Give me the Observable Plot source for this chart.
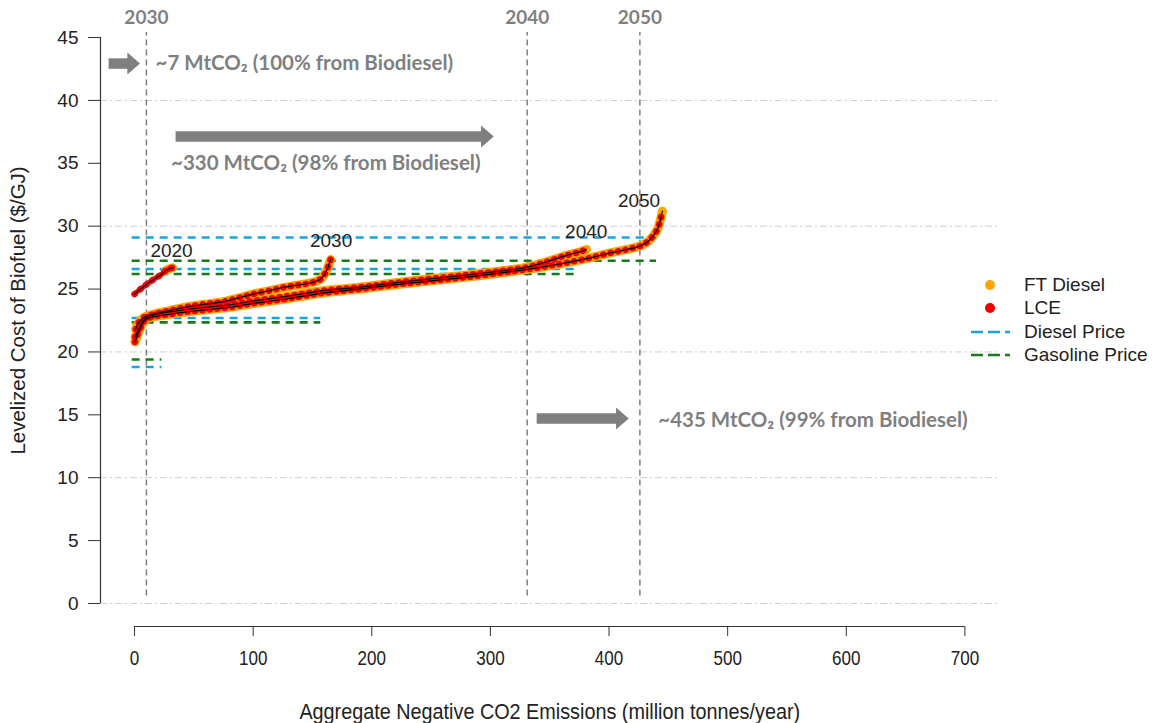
<!DOCTYPE html>
<html>
<head>
<meta charset="utf-8">
<script src="https://cdn.jsdelivr.net/npm/d3@7"></script>
<script src="https://cdn.jsdelivr.net/npm/@observablehq/plot@0.6"></script>
<style>
  html, body { margin: 0; padding: 0; background: #fff; }
  #wrap { position: relative; width: 1163px; height: 723px; overflow: hidden; }
  #legend { position: absolute; left: 966px; top: 273px; font-family: "Liberation Sans", Arial, sans-serif; font-size: 19px; color: #222; }
  #legend .row { display: flex; align-items: center; height: 23.5px; }
  #legend svg { width: 58px; height: 20px; flex: none; }
</style>
</head>
<body>
<div id="wrap"></div>
<script>
// ---------- data ----------
const yTicks = [0, 5, 10, 15, 20, 25, 30, 35, 40, 45];
const xTicks = [0, 100, 200, 300, 400, 500, 600, 700];
const gridValues = [0, 10, 20, 30, 40];
const xTitle = "Aggregate Negative CO2 Emissions (million tonnes/year)";
const yTitle = "Levelized Cost of Biofuel ($/GJ)";

// Vertical milestone lines (cumulative negative emissions reached by 2030/2040/2050)
const milestoneYears = ["2030", "2040", "2050"];
const milestoneX = [10, 331, 426];

// Supply curves: [x = cumulative negative CO2 (Mt/yr), y = levelized cost ($/GJ)]
const curve2020X = [0, 3, 5, 8, 11, 15, 19, 23, 26, 29, 32];
const curve2020Y = [24.6, 24.85, 25.0, 25.2, 25.45, 25.7, 25.95, 26.2, 26.45, 26.6, 26.7];
const ft2020X = [26, 29, 32];
const ft2020Y = [26.45, 26.6, 26.7];

const curve2030X = [1, 2, 4, 6, 8, 10, 14, 20, 30, 45, 60, 75, 90, 100, 115, 125, 135, 145, 152, 157, 160, 162.5, 164, 165.3];
const curve2030Y = [21.8, 22.1, 22.4, 22.6, 22.75, 22.85, 22.95, 23.1, 23.3, 23.6, 23.8, 24.0, 24.35, 24.6, 24.9, 25.12, 25.28, 25.42, 25.58, 25.8, 26.15, 26.6, 27.0, 27.35];

const curve2040X = [0.5, 2, 4, 6, 8, 10, 14, 20, 30, 45, 60, 80, 100, 130, 160, 190, 220, 250, 280, 310, 330, 345, 355, 365, 375, 381];
const curve2040Y = [21.2, 21.5, 21.9, 22.3, 22.55, 22.75, 22.9, 23.05, 23.2, 23.4, 23.55, 23.75, 24.05, 24.45, 24.88, 25.15, 25.5, 25.82, 26.12, 26.45, 26.72, 27.1, 27.4, 27.7, 27.95, 28.15];

const curve2050X = [0.3, 1.5, 3, 5, 7, 9, 12, 16, 22, 30, 45, 60, 80, 100, 130, 160, 190, 220, 250, 280, 310, 330, 350, 370, 385, 400, 415, 427, 433, 437, 441, 443, 445];
const curve2050Y = [20.8, 21.1, 21.5, 21.9, 22.3, 22.55, 22.7, 22.8, 22.9, 23.0, 23.2, 23.35, 23.55, 23.85, 24.25, 24.7, 25.0, 25.35, 25.65, 25.95, 26.3, 26.55, 26.85, 27.2, 27.5, 27.85, 28.15, 28.45, 28.8, 29.2, 29.8, 30.4, 31.2];

const curveLabels = ["2020", "2030", "2040", "2050"];
const curveLabelX = [31.2, 165.7, 380.8, 425.3];
const curveLabelY = [28.07, 28.8, 29.52, 32.04];

// Fuel price reference lines per year
const priceYears = ["2020", "2030", "2040", "2050"];
const dieselPrice = [18.8, 22.7, 26.6, 29.1];
const gasolinePrice = [19.4, 22.35, 26.2, 27.25];
const priceExtent = [23, 157, 373, 440];

// Arrow annotations
const arrowStartX = [-21.9, 34.6, 339];
const arrowTipX = [4.6, 302.8, 416.6];
const arrowY = [42.93, 37.13, 14.71];
const noteText = ["~7 MtCO\u2082 (100% from Biodiesel)", "~330 MtCO\u2082 (98% from Biodiesel)", "~435 MtCO\u2082 (99% from Biodiesel)"];
const noteX = [17.7, 30.8, 441.5];
const noteY = [42.93, 34.98, 14.55];

// ---------- build tables ----------
const zip = (xs, ys, extra) => xs.map((x, i) => ({x, y: ys[i], ...extra}));
const lce = [
  ...zip(curve2020X, curve2020Y, {year: "2020"}),
  ...zip(curve2030X, curve2030Y, {year: "2030"}),
  ...zip(curve2040X, curve2040Y, {year: "2040"}),
  ...zip(curve2050X, curve2050Y, {year: "2050"})
];
const ft = [
  ...zip(ft2020X, ft2020Y, {year: "2020"}),
  ...zip(curve2030X, curve2030Y, {year: "2030"}),
  ...zip(curve2040X, curve2040Y, {year: "2040"}),
  ...zip(curve2050X, curve2050Y, {year: "2050"})
];
const prices = [
  ...priceYears.map((yr, i) => ({year: yr, fuel: "Gasoline Price", price: gasolinePrice[i], xmax: priceExtent[i]})),
  ...priceYears.map((yr, i) => ({year: yr, fuel: "Diesel Price", price: dieselPrice[i], xmax: priceExtent[i]}))
];
const milestones = milestoneYears.map((yr, i) => ({year: yr, x: milestoneX[i]}));
const arrows = arrowY.map((y, i) => ({x1: arrowStartX[i], x2: arrowTipX[i], y}));
const notes = noteText.map((t, i) => ({text: t, x: noteX[i], y: noteY[i]}));
const labels = curveLabels.map((t, i) => ({text: t, x: curveLabelX[i], y: curveLabelY[i]}));

const X_MIN = -28.7, X_MAX = 730, Y_MIN = -1.83, Y_MAX = 45.4;
const COLORS = {ft: "#FFA500", lce: "#F20000", diesel: "#1BA3DB", gasoline: "#1A7A1A", gray: "#7F7F7F"};

const arrowHead = {
  draw(context, size) {
    const r = Math.sqrt(size / Math.PI);
    context.moveTo(0, 0);
    context.lineTo(-1.15 * r, -r);
    context.lineTo(-1.15 * r, r);
    context.closePath();
  }
};

const chart = Plot.plot({
  width: 1163,
  height: 723,
  marginLeft: 100,
  marginRight: 163,
  marginTop: 32,
  marginBottom: 97,
  x: {domain: [X_MIN, X_MAX]},
  y: {domain: [Y_MIN, Y_MAX]},
  style: {fontFamily: "'Liberation Sans', Arial, sans-serif", background: "white", color: "#222"},
  marks: [
    // grid
    Plot.ruleY(gridValues, {x1: X_MIN, x2: X_MAX, stroke: "#cfcfcf", strokeWidth: 1, strokeDasharray: "7,3,2,3"}),
    // axes
    Plot.ruleX([X_MIN], {y1: 0, y2: 45, stroke: "#333", strokeWidth: 1.2}),
    Plot.ruleY([Y_MIN], {x1: 0, x2: 700, stroke: "#333", strokeWidth: 1.2}),
    Plot.axisY(yTicks, {tickSize: 12, tickPadding: 10, fontSize: 19, label: null, stroke: "#333"}),
    Plot.axisX(xTicks, {tickSize: 10, tickPadding: 14, fontSize: 20, label: null, stroke: "#333"}),
    Plot.text([yTitle], {x: X_MIN, y: 23.3, dx: -82, rotate: -90, fontSize: 20.5, fill: "#222"}),
    Plot.text([xTitle], {x: 350, y: Y_MIN, dy: 85, fontSize: 22, fill: "#222"}),
    // milestone lines
    Plot.ruleX(milestones, {x: "x", y1: 0.6, y2: 45.4, stroke: COLORS.gray, strokeWidth: 1.5, strokeDasharray: "6,4"}),
    Plot.text(milestones, {x: "x", y: Y_MAX, dy: -15, text: "year", fill: COLORS.gray, fontWeight: "bold", fontSize: 19, fontFamily: "Lato, 'Open Sans', sans-serif"}),
    // price lines
    Plot.ruleY(prices, {y: "price", x1: -2, x2: "xmax", stroke: d => d.fuel === "Diesel Price" ? COLORS.diesel : COLORS.gasoline, strokeWidth: 2.6, strokeDasharray: "8,6"}),
    // supply curves
    Plot.line(ft, {x: "x", y: "y", z: "year", stroke: COLORS.ft, strokeWidth: 9, strokeLinecap: "round", strokeLinejoin: "round", curve: "catmull-rom"}),
    Plot.line(lce, {filter: d => d.year === "2020", x: "x", y: "y", stroke: COLORS.lce, strokeWidth: 5, strokeLinecap: "round", curve: "catmull-rom"}),
    Plot.line(lce, {x: "x", y: "y", z: "year", stroke: COLORS.lce, strokeWidth: 6.5, strokeLinecap: "round", strokeDasharray: "0.5,7", curve: "catmull-rom"}),
    Plot.line(lce, {x: "x", y: "y", z: "year", stroke: "#000", strokeWidth: 1.1, curve: "catmull-rom"}),
    Plot.text(labels, {x: "x", y: "y", text: "text", fontSize: 19, fill: "#222"}),
    // arrows
    Plot.arrow(arrows, {x1: "x1", x2: "x2", y1: "y", y2: "y", stroke: COLORS.gray, strokeWidth: 10.5, headLength: 0, insetEnd: 11, strokeLinecap: "butt"}),
    Plot.dot(arrows, {x: "x2", y: "y", r: 11, symbol: arrowHead, fill: COLORS.gray, stroke: "none"}),
    Plot.text(notes, {x: "x", y: "y", text: "text", textAnchor: "start", fill: COLORS.gray, fontWeight: "bold", fontSize: 20.5, fontFamily: "Lato, 'Open Sans', sans-serif"})
  ]
});

const wrap = document.getElementById("wrap");
wrap.appendChild(chart);

// condensed look for the x axis text (the reference uses a narrow face)
chart.querySelectorAll("text").forEach(t => {
  const g = t.closest("g[aria-label]");
  const isTick = g && g.getAttribute("aria-label") === "x-axis tick label";
  const isTitle = t.textContent === xTitle;
  if (isTick || isTitle) {
    const len = t.getComputedTextLength();
    if (len > 0) {
      t.setAttribute("textLength", (len * (isTitle ? 0.9 : 0.85)).toFixed(1));
      t.setAttribute("lengthAdjust", "spacingAndGlyphs");
    }
  }
});

// legend (right side)
const legendItems = [
  {label: "FT Diesel", kind: "dot", color: COLORS.ft},
  {label: "LCE", kind: "dot", color: COLORS.lce},
  {label: "Diesel Price", kind: "dash", color: COLORS.diesel},
  {label: "Gasoline Price", kind: "dash", color: COLORS.gasoline}
];
const legend = document.createElement("div");
legend.id = "legend";
legend.innerHTML = legendItems.map(d => {
  const sw = d.kind === "dot"
    ? `<circle cx="24" cy="10" r="5" fill="${d.color}"/>`
    : `<line x1="5" x2="44" y1="10" y2="10" stroke="${d.color}" stroke-width="2.6" stroke-dasharray="12,5"/>`;
  return `<div class="row"><svg viewBox="0 0 58 20">${sw}</svg><span>${d.label}</span></div>`;
}).join("");
wrap.appendChild(legend);
</script>
</body>
</html>
